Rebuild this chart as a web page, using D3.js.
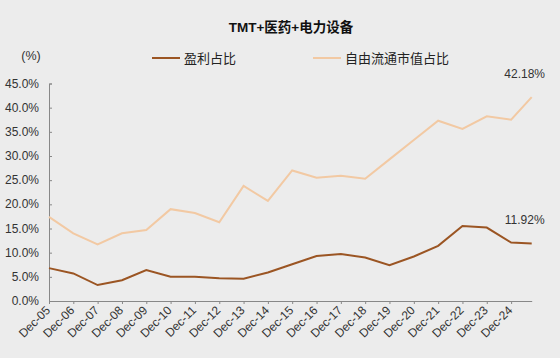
<!DOCTYPE html>
<html><head><meta charset="utf-8">
<script src="https://cdn.jsdelivr.net/npm/d3@7/dist/d3.min.js"></script>
<style>
html,body{margin:0;padding:0;background:#ececec;}
text{font-family:"Liberation Sans",Arial,"Noto Sans CJK SC",sans-serif;}
</style></head>
<body><svg id="c" width="560" height="358"></svg>
<script>
const dates = ["2005-12-31","2006-12-31","2007-12-31","2008-12-31","2009-12-31","2010-12-31","2011-12-31","2012-12-31","2013-12-31","2014-12-31","2015-12-31","2016-12-31","2017-12-31","2018-12-31","2019-12-31","2020-12-31","2021-12-31","2022-12-31","2023-12-31","2024-12-31","2025-11-05"];
const tickLabels = ["Dec-05","Dec-06","Dec-07","Dec-08","Dec-09","Dec-10","Dec-11","Dec-12","Dec-13","Dec-14","Dec-15","Dec-16","Dec-17","Dec-18","Dec-19","Dec-20","Dec-21","Dec-22","Dec-23","Dec-24"];
const profitShare = [6.8,5.7,3.3,4.3,6.4,5.0,5.0,4.7,4.6,5.9,7.6,9.3,9.7,9.0,7.4,9.2,11.4,15.5,15.2,12.1,11.92];
const floatCapShare = [17.4,14.0,11.7,14.0,14.7,19.0,18.2,16.3,23.8,20.7,27.0,25.5,25.9,25.3,29.3,33.3,37.3,35.6,38.2,37.5,42.18];
const yTicks = [0,5,10,15,20,25,30,35,40,45];
const seriesNames = ["盈利占比","自由流通市值占比"];
const colors = ["#9b5523","#f2c9a3"];

const svg = d3.select("#c");
const parse = d3.timeParse("%Y-%m-%d");
const dd = dates.map(parse);
const x = d3.scaleTime().domain([dd[0], dd[dd.length-1]]).range([49, 531.7]);
const y = d3.scaleLinear().domain([0,45]).range([301,83.5]);

svg.append("text").attr("x",291).attr("y",32).attr("text-anchor","middle")
  .attr("font-size",13.5).attr("font-weight","bold").attr("fill","#111").text("TMT+医药+电力设备");
svg.append("text").attr("x",31).attr("y",60).attr("text-anchor","middle")
  .attr("font-size",12.5).attr("fill","#333").text("(%)");

// y axis
const ya = svg.append("g").attr("transform","translate(49,0)")
  .call(d3.axisRight(y).tickValues(yTicks).tickSize(3).tickFormat(d=>""));
ya.select(".domain").attr("stroke","#888");
ya.selectAll(".tick line").attr("stroke","#888");
svg.append("g").selectAll("text").data(yTicks).join("text")
  .attr("x",39).attr("y",d=>y(d)+4).attr("text-anchor","end")
  .attr("font-size",12).attr("fill","#333").text(d=>d.toFixed(1)+"%");

// x axis
const xa = svg.append("g").attr("transform","translate(0,301)")
  .call(d3.axisBottom(x).tickValues(dd.slice(0,tickLabels.length)).tickSize(3).tickSizeOuter(0).tickFormat(""));
xa.select(".domain").attr("stroke","#888");
xa.selectAll(".tick line").attr("stroke","#888");
svg.append("g").selectAll("text").data(tickLabels).join("text")
  .attr("transform",(d,i)=>`translate(${x(dd[i])+2},${311}) rotate(-45)`)
  .attr("text-anchor","end").attr("font-size",12).attr("fill","#333").text(d=>d);

// lines
const line = d3.line().x((d,i)=>x(dd[i])).y(d=>y(d));
svg.append("path").datum(floatCapShare).attr("d",line).attr("fill","none")
  .attr("stroke",colors[1]).attr("stroke-width",2);
svg.append("path").datum(profitShare).attr("d",line).attr("fill","none")
  .attr("stroke",colors[0]).attr("stroke-width",2);

// end labels
const li = dd.length-1;
svg.append("text").attr("x",x(dd[li])-7).attr("y",78).attr("text-anchor","middle")
  .attr("font-size",12).attr("fill","#333").text(floatCapShare[li].toFixed(2)+"%");
svg.append("text").attr("x",x(dd[li])-7).attr("y",223.5).attr("text-anchor","middle")
  .attr("font-size",12).attr("fill","#333").text(profitShare[li].toFixed(2)+"%");

// legend
const leg = [{x:152,name:seriesNames[0],c:colors[0]},{x:313,name:seriesNames[1],c:colors[1]}];
leg.forEach(l=>{
  svg.append("line").attr("x1",l.x).attr("x2",l.x+28).attr("y1",58).attr("y2",58)
    .attr("stroke",l.c).attr("stroke-width",2);
  svg.append("text").attr("x",l.x+32).attr("y",63).attr("font-size",13)
    .attr("fill","#222").text(l.name);
});
</script></body></html>
